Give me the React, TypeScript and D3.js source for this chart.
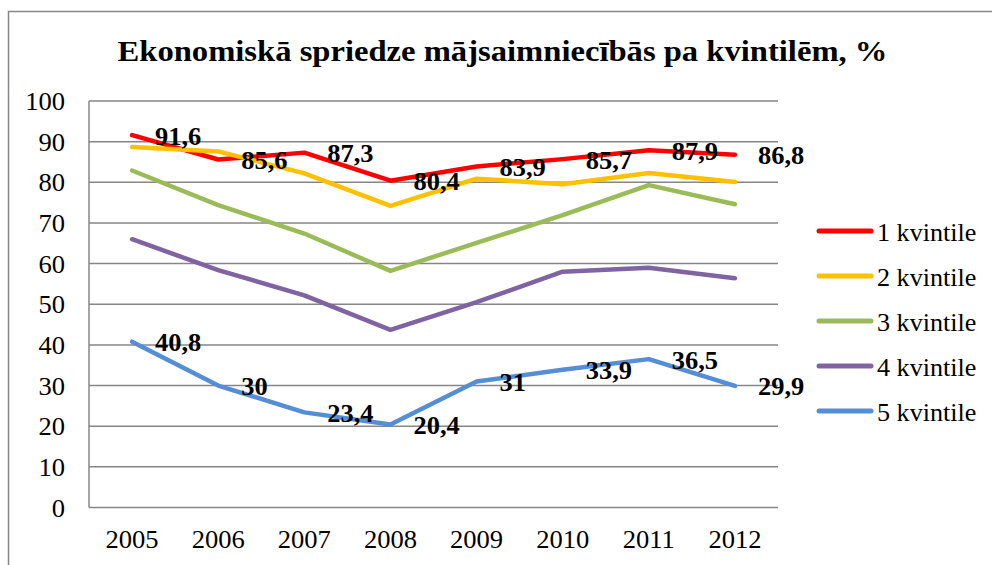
import React, { useEffect, useRef } from "react";
import * as d3 from "d3";

// Dati
const years = ["2005", "2006", "2007", "2008", "2009", "2010", "2011", "2012"];
const seriesNames = ["1 kvintile", "2 kvintile", "3 kvintile", "4 kvintile", "5 kvintile"];
const seriesColors = ["#FF0000", "#FFC000", "#9BBB59", "#8064A2", "#558ED5"];
const q1 = [91.6, 85.6, 87.3, 80.4, 83.9, 85.7, 87.9, 86.8];
const q2 = [88.7, 87.6, 82.2, 74.2, 80.9, 79.5, 82.3, 80.1];
const q3 = [82.9, 74.4, 67.4, 58.2, 65.1, 71.9, 79.3, 74.6];
const q4 = [66.0, 58.4, 52.2, 43.7, 50.5, 58.0, 59.0, 56.4];
const q5 = [40.8, 30, 23.4, 20.4, 31, 33.9, 36.5, 29.9];
const yTicks = [0, 10, 20, 30, 40, 50, 60, 70, 80, 90, 100];
const labeledSeries = [0, 4]; // samo 1. un 5. kvintilei ir vērtības

const title = "Ekonomiskā spriedze mājsaimniecībās pa kvintilēm, %";

// attēls ir nedaudz izstiepts platumā
const stretch = (x: number, y: number) => `translate(${x},${y}) scale(1.08,1)`;

const App = () => {
  const svgRef = useRef<SVGSVGElement>(null);

  useEffect(() => {
    const svg = d3.select(svgRef.current);
    svg.selectAll("*").remove();

    const width = 992;
    const height = 565;
    const plot = { left: 89, right: 778, top: 101, bottom: 507.5 };
    const font = "Liberation Serif";
    const grid = "#868686";

    const data = [q1, q2, q3, q4, q5];

    const x = d3.scalePoint<string>()
      .domain(years)
      .range([plot.left, plot.right])
      .padding(0.5);

    const y = d3.scaleLinear()
      .domain([0, 100])
      .range([plot.bottom, plot.top]);

    svg.attr("width", width)
      .attr("height", height)
      .attr("font-family", font);

    svg.append("rect")
      .attr("width", width)
      .attr("height", height)
      .attr("fill", "#fff");

    // rāmis
    svg.append("rect")
      .attr("x", 8.5)
      .attr("y", 11.5)
      .attr("width", 1000)
      .attr("height", 600)
      .attr("fill", "none")
      .attr("stroke", grid)
      .attr("stroke-width", 1.5);

    // virsraksts
    svg.append("text")
      .attr("transform", stretch(502.5, 61))
      .attr("text-anchor", "middle")
      .attr("font-weight", "bold")
      .attr("font-size", 30.2)
      .text(title);

    // režģis
    svg.append("g")
      .selectAll("line")
      .data(yTicks)
      .join("line")
      .attr("x1", plot.left)
      .attr("x2", plot.right)
      .attr("y1", d => y(d))
      .attr("y2", d => y(d))
      .attr("stroke", grid)
      .attr("stroke-width", 1.5);

    svg.append("line")
      .attr("x1", plot.left)
      .attr("x2", plot.left)
      .attr("y1", plot.top)
      .attr("y2", plot.bottom)
      .attr("stroke", grid)
      .attr("stroke-width", 1.5);

    // Y ass
    svg.append("g")
      .selectAll("text")
      .data(yTicks)
      .join("text")
      .attr("transform", d => stretch(65, y(d) + 9))
      .attr("text-anchor", "end")
      .attr("font-size", 24.6)
      .text(d => d);

    // X ass
    svg.append("g")
      .selectAll("text")
      .data(years)
      .join("text")
      .attr("transform", d => stretch(x(d)!, 548))
      .attr("text-anchor", "middle")
      .attr("font-size", 24.6)
      .text(d => d);

    // līnijas
    const line = d3.line<number>()
      .x((_, i) => x(years[i])!)
      .y(d => y(d));

    data.forEach((vals, s) => {
      svg.append("path")
        .datum(vals)
        .attr("fill", "none")
        .attr("stroke", seriesColors[s])
        .attr("stroke-width", 4.5)
        .attr("stroke-linejoin", "round")
        .attr("stroke-linecap", "round")
        .attr("d", line);
    });

    // vērtību etiķetes
    labeledSeries.forEach(s => {
      svg.append("g")
        .selectAll("text")
        .data(data[s])
        .join("text")
        .attr("transform", (d, i) => stretch(x(years[i])! + 23, y(d) + 9.5))
        .attr("font-weight", "bold")
        .attr("font-size", 24.5)
        .text(d => String(d).replace(".", ","));
    });

    // leģenda
    const legend = svg.append("g");
    seriesNames.forEach((name, i) => {
      const ly = 231 + i * 45;
      legend.append("line")
        .attr("x1", 819)
        .attr("x2", 871)
        .attr("y1", ly)
        .attr("y2", ly)
        .attr("stroke", seriesColors[i])
        .attr("stroke-width", 5)
        .attr("stroke-linecap", "round");
      legend.append("text")
        .attr("transform", stretch(877, ly + 10))
        .attr("font-size", 24.2)
        .text(name);
    });
  }, []);

  return (
    <svg
      ref={svgRef}
      style={{ position: "absolute", left: 0, top: 0, display: "block" }}
    ></svg>
  );
};

export default App;
